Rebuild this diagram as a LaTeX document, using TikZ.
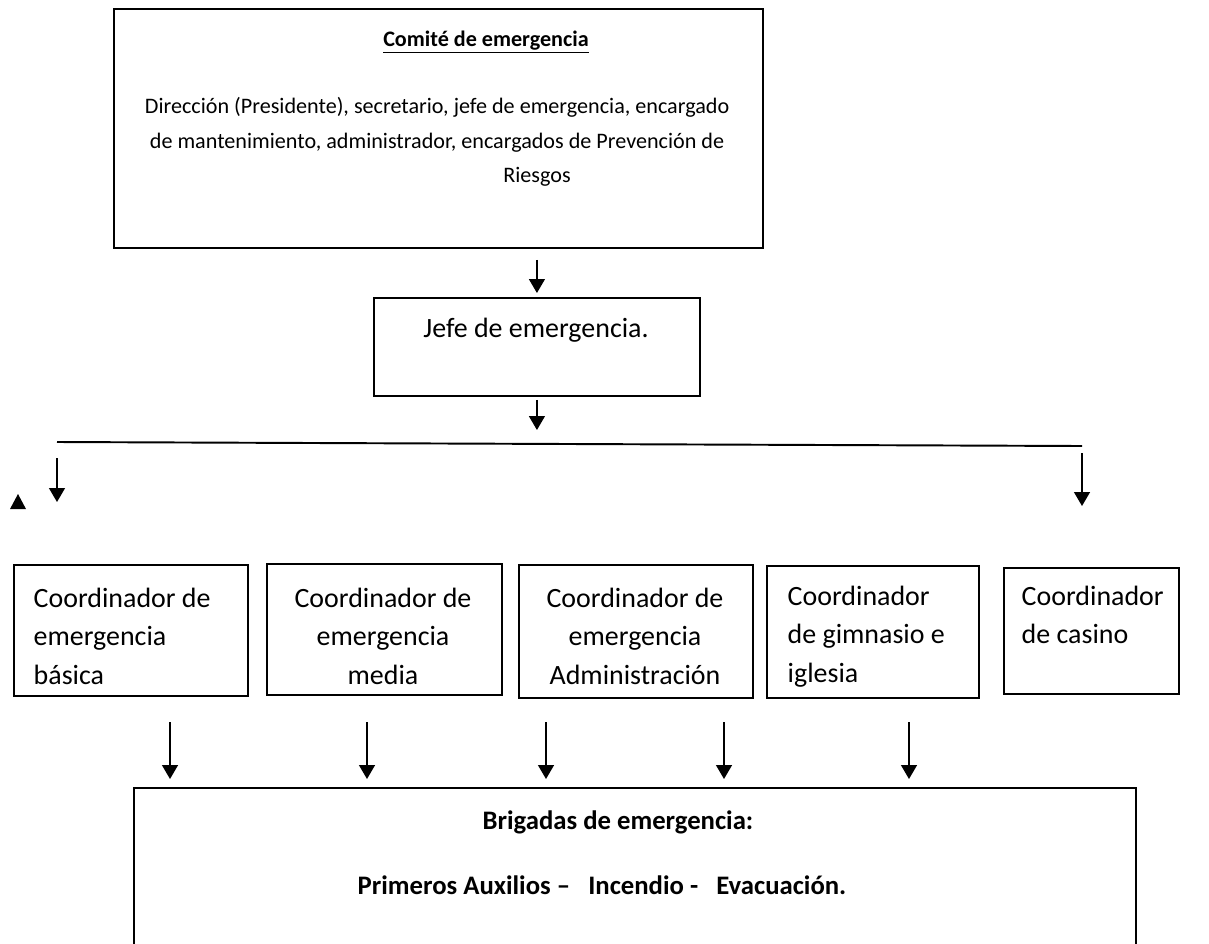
\documentclass[tikz,border=0pt]{standalone}
\usepackage{fontspec}
\setmainfont{Carlito}
\usetikzlibrary{arrows.meta, positioning}

\begin{document}
\begin{tikzpicture}[
            x = 0.02cm, y = -0.02cm, % one unit = one pixel of the sketch
            > = {Triangle[length=2.8mm, width=3.2mm]}, % filled arrow head
            line width = 0.8pt % line style
        ]

        \tikzstyle{box}=[
            draw = black,
            line width = 1.1pt,
            inner sep = 0pt,
            anchor = north west
        ]
        \tikzstyle{small}=[
            inner sep = 0pt,
            font = \fontsize{12.6}{19.8}\selectfont
        ]
        \tikzstyle{big}=[
            inner sep = 0pt,
            font = \fontsize{15.9}{22}\selectfont
        ]
        \tikzstyle{bold}=[
            inner sep = 0pt,
            font = \fontsize{15.2}{22}\selectfont\bfseries
        ]

        \useasboundingbox (0,0) rectangle (1209,943);
        \clip (0,0) rectangle (1209,943);

        % comite
        \node[box, minimum width=12.98cm, minimum height=4.78cm] (comite) at (113,8) {};
        \node[small] (titulo) at (486,42) {\underline{\textbf{Comité de emergencia}}};
        \node[small, align=center] (miembros) at (437,142)
            {Dirección (Presidente), secretario, jefe de emergencia, encargado\\
             de mantenimiento, administrador, encargados de Prevención de\\
             \hspace*{4cm}Riesgos};

        % jefe
        \node[box, minimum width=6.52cm, minimum height=1.96cm] (jefe) at (373,297) {};
        \node[big] (jefetxt) at (536,330) {Jefe de emergencia.};

        \path[->] (comite.south -| jefe.north) edge[shorten <=2.2mm, shorten >=0.8mm] (jefe.north);

        % barra
        \coordinate (busL) at (57,442);
        \coordinate (busR) at (1082,446);
        \coordinate (izq) at (57,502);
        \coordinate (der) at (1082,506);
        \draw[line width=1.1pt] (busL) -- (busR);
        \path[->] (jefe.south) edge[shorten <=0.6mm, shorten >=2.4mm] (jefe.south |- busL);
        \path[->] (busL) edge[shorten <=3.2mm] (izq);
        \path[->] (busR) edge[shorten <=1.4mm] (der);
        \fill (10,509) -- (26,509) -- (18,494) -- cycle;

        % coordinadores
        \node[box, minimum width=4.68cm, minimum height=2.62cm] (basica) at (13,564) {};
        \node[big, align=left, anchor=north west] (basicatxt) at (33,587)
            {Coordinador de\\emergencia\\básica};
        \node[box, minimum width=4.70cm, minimum height=2.62cm] (media) at (266,563) {};
        \node[big, align=center, anchor=north] (mediatxt) at (383,587)
            {Coordinador de\\emergencia\\media};
        \node[box, minimum width=4.68cm, minimum height=2.66cm] (admin) at (518,564) {};
        \node[big, align=center, anchor=north] (admintxt) at (635,587)
            {Coordinador de\\emergencia\\Administración};
        \node[box, minimum width=4.24cm, minimum height=2.64cm] (gimnasio) at (766,565) {};
        \begin{scope}
            \clip (766,565) rectangle (978,689);
            \node[big, align=left, anchor=north west] (gimnasiotxt) at (787,585)
                {Coordinador\\de gimnasio e\\iglesia};
        \end{scope}
        \node[box, minimum width=3.50cm, minimum height=2.52cm] (casino) at (1003,567) {};
        \node[big, align=left, anchor=north west] (casinotxt) at (1021,585)
            {Coordinador\\de casino};

        % brigadas
        \node[box, minimum width=20.04cm, minimum height=4.26cm] (brigadas) at (133,787) {};
        \node[bold] (brigtit) at (618,822) {Brigadas de emergencia:};
        \node[bold] (tipos) at (602,885)
            {Primeros Auxilios –\ \ \ Incendio -\ \ \ Evacuación.};

        \coordinate (a1) at (170,722);
        \coordinate (a2) at (367,722);
        \coordinate (a3) at (546,722);
        \coordinate (a4) at (724,722);
        \coordinate (a5) at (909,722);
        \path[->] (a1) edge[shorten >=1.6mm] (a1 |- brigadas.north);
        \path[->] (a2) edge[shorten >=1.6mm] (a2 |- brigadas.north);
        \path[->] (a3) edge[shorten >=1.6mm] (a3 |- brigadas.north);
        \path[->] (a4) edge[shorten >=1.6mm] (a4 |- brigadas.north);
        \path[->] (a5) edge[shorten >=1.6mm] (a5 |- brigadas.north);

\end{tikzpicture}
\end{document}
